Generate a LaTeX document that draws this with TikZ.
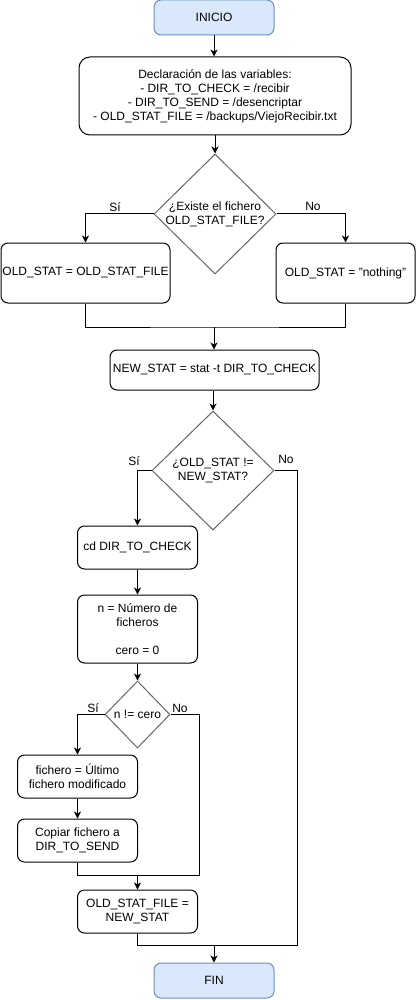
\documentclass[tikz,border=0pt]{standalone}
\usepackage{fontspec}
\setmainfont{Liberation Sans}
\usetikzlibrary{shapes.geometric,arrows.meta}
\definecolor{termfill}{HTML}{DAE8FC}
\definecolor{termdraw}{HTML}{6C8EBF}
\definecolor{decdraw}{HTML}{666666}
\begin{document}
\begin{tikzpicture}[x=1pt,y=-1pt,
  every node/.style={font=\fontsize{12}{14}\selectfont},
  box/.style={draw, line width=1pt, rounded corners=7pt, align=center, inner sep=0pt},
  term/.style={box, fill=termfill, draw=termdraw},
  dec/.style={diamond, draw=decdraw, line width=1pt, inner sep=0pt},
  txt/.style={align=center, inner sep=0pt},
  lbl/.style={inner sep=0pt},
  conn/.style={line width=1pt, draw=black},
  arr/.style={conn, -{Stealth[length=7pt,width=7pt,inset=2pt]}}
]
\path[use as bounding box] (0,0) rectangle (416,1000);

\node[term, minimum width=120pt, minimum height=35pt] (ini) at (214,17.5) {INICIO};
\node[box, rounded corners=11pt, minimum width=272pt, minimum height=78pt] (decl) at (215,96)
  {Declaración de las variables:\\- DIR\_TO\_CHECK = /recibir\\- DIR\_TO\_SEND = /desencriptar\\- OLD\_STAT\_FILE = /backups/ViejoRecibir.txt};
\node[dec, minimum width=122pt, minimum height=120pt] (d1) at (215,214) {};
\node[txt] (d1t) at (215,214) {¿Existe el fichero\\OLD\_STAT\_FILE?};
\node[box, minimum width=169pt, minimum height=60pt] (b1) at (85.5,273) {OLD\_STAT = OLD\_STAT\_FILE};
\node[box, minimum width=139pt, minimum height=60pt] (b2) at (345.5,273) {OLD\_STAT = "nothing"};
\node[box, minimum width=209pt, minimum height=40pt] (ns) at (214.5,370) {NEW\_STAT = stat -t DIR\_TO\_CHECK};
\node[dec, minimum width=122pt, minimum height=119pt] (d2) at (213,470.5) {};
\node[txt] (d2t) at (213,470.5) {¿OLD\_STAT !=\\NEW\_STAT?};
\node[box, minimum width=120pt, minimum height=43pt] (cd) at (137.5,547.5) {cd DIR\_TO\_CHECK};
\node[box, minimum width=120pt, minimum height=68pt] (nb) at (137.5,629) {n = Número de\\ficheros\\ \mbox{}\\cero = 0};
\node[dec, minimum width=65pt, minimum height=67pt] (d3) at (137.5,714.5) {};
\node[txt] (d3t) at (137.5,714.5) {n != cero};
\node[box, minimum width=120pt, minimum height=43pt] (fi) at (77.5,776.5) {fichero = Último\\fichero modificado};
\node[box, minimum width=120pt, minimum height=43pt] (cp) at (77.5,840.5) {Copiar fichero a\\DIR\_TO\_SEND};
\node[box, minimum width=120pt, minimum height=43pt] (os) at (137.5,911.5) {OLD\_STAT\_FILE =\\NEW\_STAT};
\node[term, minimum width=120pt, minimum height=35pt] (fin) at (214,980.5) {FIN};

\coordinate (j1) at (214,327);
\coordinate (j2) at (137.5,875);
\coordinate (j3) at (214,945);
\coordinate (r3) at (199,875);
\coordinate (r2) at (297,945);

\node[lbl] (l1) at (115,207) {Sí};
\node[lbl] (l2) at (313,206) {No};
\node[lbl] (l3) at (134,461) {Sí};
\node[lbl] (l4) at (286,459) {No};
\node[lbl] (l5) at (93,708) {Sí};
\node[lbl] (l6) at (180,708) {No};

\draw[arr] (ini.south) -- (ini.south |- decl.north);
\draw[arr] (decl.south -| d1.north) -- (d1.north);
\draw[arr] (d1.west) -| (b1.north);
\draw[arr] (d1.east) -| (b2.north);
\draw[conn] (b1.south) |- (j1) -| (b2.south);
\draw[arr] (j1) -- (j1 |- ns.north);
\draw[arr] (ns.south -| d2.north) -- (d2.north);
\draw[arr] (d2.west) -| (cd.north);
\draw[conn] (d2.east) -| (r2) -- (j3);
\draw[arr] (cd.south) -- (nb.north);
\draw[arr] (nb.south) -- (d3.north);
\draw[arr] (d3.west) -| (fi.north);
\draw[conn] (d3.east) -| (r3) -- (j2);
\draw[arr] (fi.south) -- (cp.north);
\draw[conn] (cp.south) |- (j2);
\draw[arr] (j2) -- (os.north);
\draw[conn] (os.south) |- (j3);
\draw[arr] (j3) -- (fin.north);
\end{tikzpicture}
\end{document}
